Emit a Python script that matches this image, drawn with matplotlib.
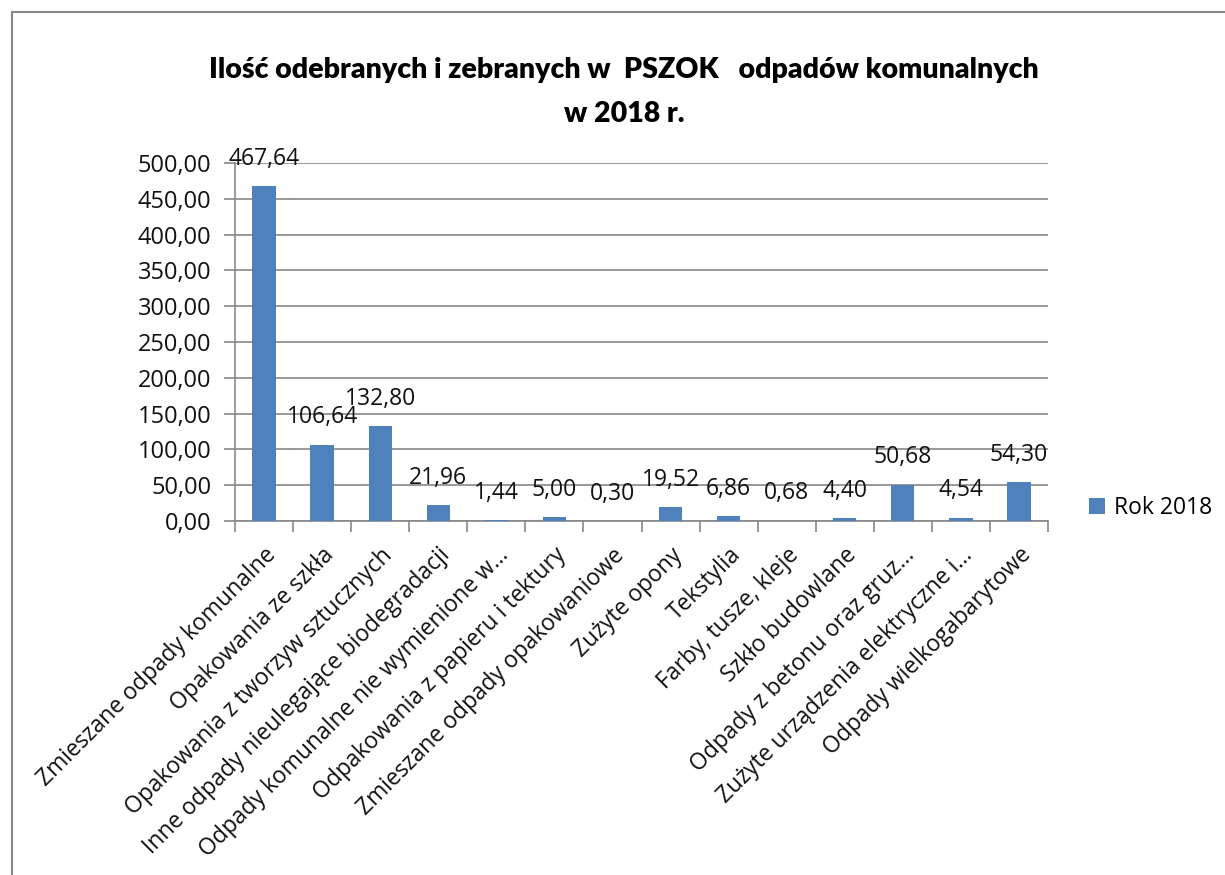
import matplotlib
matplotlib.use("Agg")
import matplotlib.pyplot as plt
from matplotlib.patches import Rectangle

categories = ["Zmieszane odpady komunalne", "Opakowania ze szkła",
              "Opakowania z tworzyw sztucznych", "Inne odpady nieulegające biodegradacji",
              "Odpady komunalne nie wymienione w…", "Odpakowania z papieru i tektury",
              "Zmieszane odpady opakowaniowe", "Zużyte opony", "Tekstylia",
              "Farby, tusze, kleje", "Szkło budowlane", "Odpady z betonu oraz gruz…",
              "Zużyte urządzenia elektryczne i…", "Odpady wielkogabarytowe"]
values = [467.64, 106.64, 132.80, 21.96, 1.44, 5.00, 0.30, 19.52, 6.86,
          0.68, 4.40, 50.68, 4.54, 54.30]
yticks = [0, 50, 100, 150, 200, 250, 300, 350, 400, 450, 500]
series_name = "Rok 2018"
title = "Ilość odebranych i zebranych w  PSZOK   odpadów komunalnych\nw 2018 r."

plt.rcParams['font.family'] = ['Open Sans', 'DejaVu Sans']


def pl(v):
    return ("%.2f" % v).replace(".", ",")


fig = plt.figure(figsize=(12.25, 8.75), dpi=100)
ax = fig.add_axes([235/1225, 1-521/875, (1048-235)/1225, (521-163)/875])

x = list(range(len(categories)))
bars = ax.bar(x, values, width=0.4, color="#4F81BD", label=series_name, zorder=3)

for xi, v in zip(x, values):
    ax.annotate(pl(v), (xi, v), xytext=(0, 11), textcoords="offset points",
                ha="center", va="bottom", fontsize=16.5, color="#111111", zorder=4)

ax.set_xlim(-0.5, len(categories)-0.5)
ax.set_ylim(0, 500)
ax.set_yticks(yticks)
ax.set_yticklabels([pl(t) for t in yticks], fontsize=17, color="#111111")
ax.yaxis.grid(True, color="#888888", linewidth=1.2, zorder=0)
ax.set_axisbelow(True)

ax.set_xticks(x)
ax.set_xticklabels(categories, rotation=45, ha="right", rotation_mode="anchor",
                   fontsize=16.5, color="#111111")
ax.tick_params(axis="x", length=0, pad=16)
ax.set_xticks([i - 0.5 for i in range(len(categories)+1)], minor=True)
ax.tick_params(axis="x", which="minor", length=8, color="#888888", width=1.2)
ax.tick_params(axis="y", length=8, color="#888888", width=1.2, pad=9)

for s in ["top", "right"]:
    ax.spines[s].set_visible(False)
for s in ["left", "bottom"]:
    ax.spines[s].set_color("#888888")
    ax.spines[s].set_linewidth(1.2)

fig.text(624/1225, 1-92/875, title, ha="center", va="center", fontsize=20.5,
         fontweight="heavy", family=["Lato", "DejaVu Sans"], linespacing=1.9)

ax.legend(loc="center left", bbox_to_anchor=(1.025, 0.035), frameon=False,
          fontsize=16.5, handlelength=0.7, handleheight=0.7, handletextpad=0.4)

fig.patches.append(Rectangle((12/1225, -0.1), 1.2, 1.1 - 12/875, transform=fig.transFigure,
                             fill=False, edgecolor="#888888", linewidth=1.5))

fig.savefig("out.png", dpi=100)
